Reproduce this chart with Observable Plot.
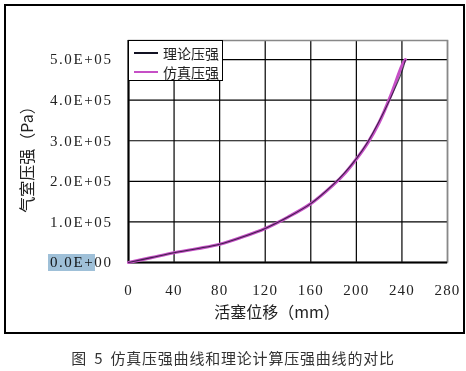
<!DOCTYPE html>
<html>
<head>
<meta charset="utf-8">
<script src="https://cdn.jsdelivr.net/npm/d3@7"></script>
<script src="https://cdn.jsdelivr.net/npm/@observablehq/plot@0.6"></script>
<style>
  html, body { margin: 0; padding: 0; background: #fff; }
  body { width: 466px; height: 371px; position: relative; overflow: hidden;
         font-family: "Liberation Serif", "Noto Sans CJK SC", serif; }
  #frame { position: absolute; left: 4px; top: 4px; width: 457px; height: 326px;
           border: 2px solid #000; }
  #chart svg { display: block; }
  #chart svg [aria-label="y-axis tick label"] text { letter-spacing: 1.6px; }
  #chart svg [aria-label="x-axis tick label"] text { letter-spacing: 1.2px; }
  #legend { position: absolute; left: 128px; top: 40px; width: 93px; height: 39px;
            border: 1px solid #000; background: #fff; font-family: "Noto Sans CJK SC", sans-serif;
            font-size: 14px; color: #222; }
  .row { position: absolute; left: 0; height: 18px; line-height: 18px; }
  .sw { position: absolute; left: 5px; width: 24px; height: 2px; }
  .lab { position: absolute; left: 34px; white-space: nowrap; }
  #hl { position: absolute; left: 48px; top: 254px; width: 47px; height: 17px;
        background: #9fc0d8; mix-blend-mode: multiply; }
  #caption { position: absolute; left: 0; width: 466px; top: 347px; text-align: center;
             font-family: "Noto Sans CJK SC", sans-serif; font-size: 15px; color: #333;
             letter-spacing: 0.8px; word-spacing: 3px; }
</style>
</head>
<body>
<div id="frame"><div id="chart"></div></div>
<div id="legend"></div>
<div id="hl"></div>
<div id="caption"></div>
<script>
// ---- data ----
const displacement = [0, 20, 40, 60, 80, 100, 120, 140, 160, 180, 190, 200, 210, 220, 230, 240, 243];
const simPressure  = [0, 12000, 24000, 34000, 45000, 63000, 84000, 112000, 145000, 192000, 220000, 255000, 295000, 345000, 410000, 485000, 500000];
const theoPressure = [0, 12000, 24000, 34000, 45000, 63000, 84000, 112000, 145000, 193000, 222000, 256000, 297000, 348000, 405000, 470000, 498000];
const xTicks = [0, 40, 80, 120, 160, 200, 240, 280];
const yTicks = [0, 100000, 200000, 300000, 400000, 500000];
const yTickLabels = ["0.0E+00", "1.0E+05", "2.0E+05", "3.0E+05", "4.0E+05", "5.0E+05"];
const seriesNames = ["理论压强", "仿真压强"];
const seriesColors = ["#111122", "#c64fc6"];
const xTitle = "活塞位移（mm）";
const yTitle = "气室压强（Pa）";
const captionText = "图 5 仿真压强曲线和理论计算压强曲线的对比";

const simData = displacement.map((x, i) => ({x, y: simPressure[i]}));
const theoData = displacement.map((x, i) => ({x, y: theoPressure[i]}));

const chart = Plot.plot({
  width: 457,
  height: 326,
  marginLeft: 122,
  marginRight: 16,
  marginTop: 34,
  marginBottom: 70,
  x: {domain: [0, 280]},
  y: {domain: [0, 547000]},
  style: {background: "transparent", fontFamily: "'Liberation Serif', 'Noto Sans CJK SC', serif", fontSize: "15px", color: "#222"},
  marks: [
    Plot.gridX(xTicks, {stroke: "#000", strokeOpacity: 1, strokeWidth: 1.2}),
    Plot.gridY(yTicks, {stroke: "#000", strokeOpacity: 1, strokeWidth: 1.2}),
    Plot.frame({stroke: "#888", strokeWidth: 1.5}),
    Plot.ruleX([0], {stroke: "#000", strokeWidth: 2}),
    Plot.ruleY([0], {stroke: "#000", strokeWidth: 2}),
    Plot.line(simData, {x: "x", y: "y", stroke: seriesColors[1], strokeWidth: 3.2, curve: "catmull-rom"}),
    Plot.line(theoData, {x: "x", y: "y", stroke: seriesColors[0], strokeWidth: 1.1, strokeOpacity: 0.75, curve: "catmull-rom"}),
    Plot.axisX(xTicks, {tickSize: 0, tickPadding: 22, label: null, fontSize: 15}),
    Plot.axisY(yTicks, {tickSize: 0, tickPadding: 16, label: null, fontSize: 15,
      tickFormat: (d) => yTickLabels[yTicks.indexOf(d)]}),
    Plot.text([xTitle], {frameAnchor: "bottom", dx: -11, dy: 55, fontSize: 16,
      fontFamily: "'Noto Sans CJK SC', sans-serif", fill: "#222"}),
    Plot.text([yTitle], {frameAnchor: "left", textAnchor: "middle", rotate: -90, dx: -101, dy: 4, fontSize: 16,
      fontFamily: "'Noto Sans CJK SC', sans-serif", fill: "#222"})
  ]
});
document.getElementById("chart").appendChild(chart);

// legend
const legend = document.getElementById("legend");
seriesNames.forEach((name, i) => {
  const row = document.createElement("div");
  row.className = "row";
  row.style.top = (3 + i * 19) + "px";
  row.style.width = "93px";
  const sw = document.createElement("div");
  sw.className = "sw";
  sw.style.top = "8px";
  sw.style.background = seriesColors[i];
  const lab = document.createElement("div");
  lab.className = "lab";
  lab.textContent = name;
  row.appendChild(sw);
  row.appendChild(lab);
  legend.appendChild(row);
});
document.getElementById("caption").textContent = captionText;
</script>
</body>
</html>
